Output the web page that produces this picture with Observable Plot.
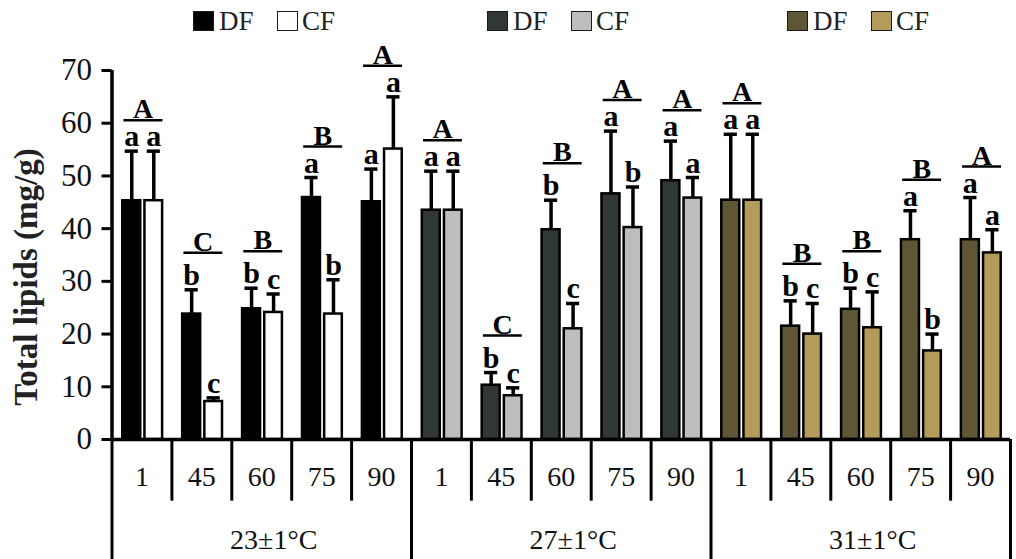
<!DOCTYPE html>
<html><head><meta charset="utf-8">
<script src="https://cdn.jsdelivr.net/npm/d3@7"></script>
<script src="https://cdn.jsdelivr.net/npm/@observablehq/plot@0.6"></script>
<style>
html,body{margin:0;padding:0;background:#fff;overflow:hidden;}
#legend{position:relative;width:1016px;height:36px;font-family:"Liberation Serif",serif;font-size:27px;color:#222;}
.sw{position:absolute;top:11px;width:19px;height:18px;border:1.5px solid #1a1a1a;}
.lt{position:absolute;top:8px;line-height:27px;white-space:nowrap;}
#chart svg{display:block;}
</style></head><body>
<div id="legend"></div>
<div id="chart"></div>
<script>
// ---- data ----
const temps = ["23±1°C", "27±1°C", "31±1°C"];
const days = ["1", "45", "60", "75", "90"];
const treatments = ["DF", "CF"];
const dfMean = [45.3, 23.8, 24.8, 45.9, 45.1,  43.5, 10.3, 39.8, 46.6, 49.1,  45.4, 21.5, 24.7, 37.9, 37.9];
const dfErr  = [54.7, 28.4, 28.7, 49.7, 51.3,  50.9, 12.7, 45.4, 58.5, 56.6,  57.9, 26.3, 28.7, 43.4, 45.9];
const cfMean = [45.3,  7.2, 24.1, 23.8, 55.1,  43.5,  8.3, 21.0, 40.2, 45.8,  45.4, 20.0, 21.2, 16.8, 35.4];
const cfErr  = [54.7,  7.9, 27.6, 30.3, 65.0,  50.9,  9.8, 25.8, 47.9, 49.7,  57.9, 25.8, 28.0, 20.0, 39.8];
const dfLetters = ["a","b","b","a","a", "a","b","b","a","a", "a","b","b","a","a"];
const cfLetters = ["a","c","c","b","a", "a","c","c","b","a", "a","c","c","b","a"];
const groupLetters = ["A","C","B","B","A", "A","C","B","A","A", "A","B","B","B","A"];
const dfColors = ["#000000", "#2f3737", "#5f5636"];
const cfColors = ["#ffffff", "#bdbdbd", "#b39b59"];
const yTicks = [0, 10, 20, 30, 40, 50, 60, 70];

// ---- legend (HTML, above the svg) ----
const legendLeft = [193, 487, 787];
const legend = document.getElementById("legend");
temps.forEach((t, g) => {
  const L = legendLeft[g];
  const parts = [
    {sw: dfColors[g], left: L, text: treatments[0], tl: L + 26},
    {sw: cfColors[g], left: L + 84, text: treatments[1], tl: L + 109}
  ];
  parts.forEach(p => {
    const s = document.createElement("div");
    s.className = "sw"; s.style.left = p.left + "px"; s.style.background = p.sw;
    legend.appendChild(s);
    const tx = document.createElement("div");
    tx.className = "lt"; tx.style.left = p.tl + "px"; tx.textContent = p.text;
    legend.appendChild(tx);
  });
});

// ---- derived tables ----
const cats = [];
temps.forEach((t, g) => days.forEach((d, k) => {
  const i = g * 5 + k;
  cats.push({i, g, day: d, temp: t});
}));
const barSpan = {DF: [0.18, 0.48], CF: [0.55, 0.845]};
const center = d => d.i + (barSpan[d.treat][0] + barSpan[d.treat][1]) / 2;
const bars = cats.flatMap(c => [
  {i: c.i, treat: "DF", value: dfMean[c.i], err: dfErr[c.i], letter: dfLetters[c.i], fill: dfColors[c.g]},
  {i: c.i, treat: "CF", value: cfMean[c.i], err: cfErr[c.i], letter: cfLetters[c.i], fill: cfColors[c.g]}
]);
const asc = l => /[bdfhklt]/.test(l);
const groups = cats.map(c => {
  const pair = bars.filter(b => b.i === c.i);
  const gov = pair.reduce((a, b) => (b.err + (asc(b.letter) ? 1.14 : 0)) > (a.err + (asc(a.letter) ? 1.14 : 0)) ? b : a);
  return {i: c.i, y: gov.err, tall: asc(gov.letter), letter: groupLetters[c.i]};
});
const tallG = groups.filter(d => d.tall);
const shortG = groups.filter(d => !d.tall);

const dayRowY = -7.06, dayRowBottom = -11.7, tempRowY = -19.1, tableBottom = -23.5;
const minorBounds = d3.range(1, 15).filter(v => v % 5 !== 0);
const majorBounds = [0, 5, 10, 15];

const bold = {fontWeight: "bold", fill: "#000"};
const chart = Plot.plot({
  width: 1016,
  height: 523,
  marginTop: 34,
  marginBottom: 120,
  marginLeft: 111.5,
  marginRight: 6,
  x: {domain: [0, 15], axis: null},
  y: {domain: [0, 70], label: null},
  color: {type: "identity"},
  style: {fontFamily: "'Liberation Serif', 'Times New Roman', serif", fontSize: "28px", color: "#000", background: "#fff"},
  marks: [
    Plot.rect(bars, {x1: d => d.i + barSpan[d.treat][0], x2: d => d.i + barSpan[d.treat][1], y1: () => 0, y2: "value", fill: "fill", stroke: "#000", strokeWidth: 2.5}),
    Plot.ruleX(bars, {x: center, y1: "value", y2: "err", stroke: "#000", strokeWidth: 3.5}),
    Plot.ruleY(bars, {y: "err", x1: d => center(d) - 0.11, x2: d => center(d) + 0.11, stroke: "#000", strokeWidth: 3.5}),
    Plot.text(bars, {x: center, y: "err", text: "letter", lineAnchor: "bottom", dy: -5, fontSize: 30, ...bold}),
    Plot.ruleY(shortG, {y: "y", x1: d => d.i + 0.2, x2: d => d.i + 0.85, dy: -31, stroke: "#000", strokeWidth: 2.5}),
    Plot.ruleY(tallG, {y: "y", x1: d => d.i + 0.2, x2: d => d.i + 0.85, dy: -37, stroke: "#000", strokeWidth: 2.5}),
    Plot.text(shortG, {x: d => d.i + 0.52, y: "y", text: "letter", lineAnchor: "bottom", dy: -33, fontSize: 28, ...bold}),
    Plot.text(tallG, {x: d => d.i + 0.52, y: "y", text: "letter", lineAnchor: "bottom", dy: -39, fontSize: 28, ...bold}),
    // axes and category table
    Plot.ruleY([0], {stroke: "#000", strokeWidth: 3.5}),
    Plot.ruleX([0], {x: d => d, y1: () => 0, y2: () => 70, stroke: "#000", strokeWidth: 3.5}),
    Plot.ruleX(minorBounds, {x: d => d, y1: () => 0, y2: () => dayRowBottom, stroke: "#000", strokeWidth: 3}),
    Plot.ruleX(majorBounds, {x: d => d, y1: () => 0, y2: () => tableBottom, stroke: "#000", strokeWidth: 3}),
    Plot.text(cats, {x: d => d.i + 0.5, y: () => dayRowY, text: "day", fontSize: 28, fill: "#111"}),
    Plot.text(temps, {x: (d, k) => k * 5 + 2.7, y: () => tempRowY, text: d => d, fontSize: 28, fill: "#111"}),
    Plot.axisY(yTicks, {tickSize: 10, tickPadding: 10, fontSize: 31, strokeWidth: 3, stroke: "#000", fill: "#111", label: null, tickFormat: d => String(d)}),
    Plot.text(["Total lipids (mg/g)"], {text: d => d, frameAnchor: "left", textAnchor: "middle", dx: -86, dy: 22, rotate: -90, fontSize: 33, ...bold, fill: "#222"})
  ]
});
document.getElementById("chart").appendChild(chart);
</script>
</body></html>
